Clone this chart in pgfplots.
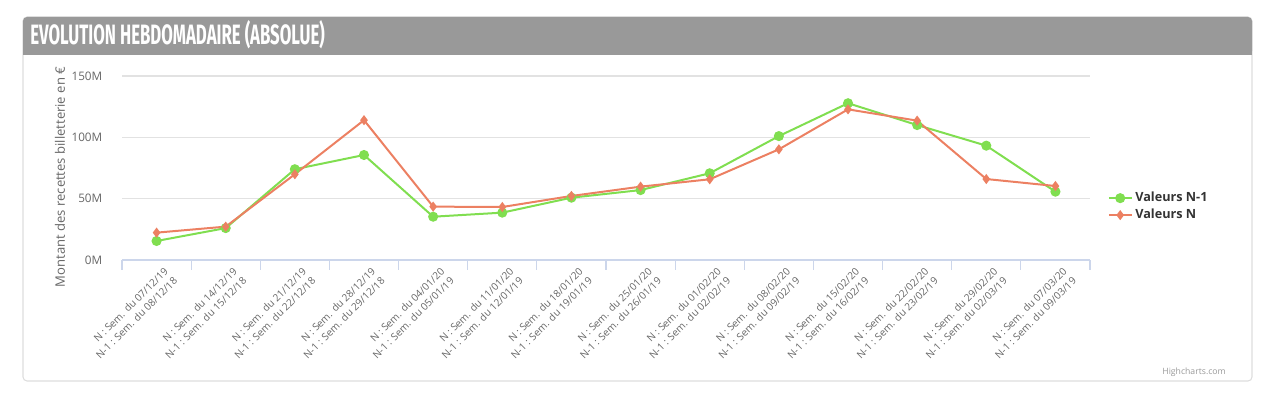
\documentclass[border=0pt]{standalone}
\usepackage{pgfplots}
\pgfplotsset{compat=1.18}
\usepackage{fontspec}
\usepackage{graphicx}
\setmainfont{Open Sans}
\newfontfamily\titlefont{Fira Sans}
\definecolor{grn}{RGB}{128,222,80}
\definecolor{sal}{RGB}{236,128,98}
\definecolor{gridc}{RGB}{226,226,226}
\definecolor{axc}{RGB}{204,214,235}
\definecolor{tlc}{RGB}{102,102,102}
\definecolor{barc}{RGB}{153,153,153}
\definecolor{panc}{RGB}{221,221,221}
\begin{document}
\begin{tikzpicture}[x=0.75pt,y=0.75pt]
\useasboundingbox (0,0) rectangle (1280,399);
% panel
\draw[panc, rounded corners=3pt, line width=0.8pt] (23,18) rectangle (1252,382);
\fill[barc, rounded corners=3pt] (23,344) rectangle (1252,382);
\fill[barc] (23,344) rectangle (1252,360);
\node[anchor=base west, inner sep=0pt, text=white] at (30,354)
  {\scalebox{0.6}[1]{\titlefont\fontsize{21}{23}\selectfont\bfseries EVOLUTION HEBDOMADAIRE (ABSOLUE)}};
\node[anchor=base east, inner sep=0pt, text=barc, font=\fontsize{6.5}{8}\selectfont] at (1226,24) {Highcharts.com};
\node[rotate=90, inner sep=0pt, text=tlc, font=\fontsize{9.8}{11}\selectfont] at (60,222) {Montant des recettes billetterie en €};
\begin{axis}[
  at={(91.5pt,104.25pt)}, anchor=south west,
  scale only axis, width=726pt, height=138pt,
  xmin=-0.5, xmax=13.5, ymin=0, ymax=150,
  axis line style={draw=none},
  axis x line*=bottom,
  axis y line*=left,
  ytick={0,50,100,150},
  yticklabels={0M,50M,100M,150M},
  major y tick style={draw=none},
  ymajorgrids, grid style={gridc, line width=0.8pt},
  xtick={0,...,13},
  major x tick style={draw=none},
  minor xtick={-0.5,0.5,...,13.5},
  minor x tick style={axc, line width=0.8pt},
  minor tick length=7.5pt,
  tick align=outside,
  xticklabels={
   {N : Sem. du 07/12/19\\N-1 : Sem. du 08/12/18},
   {N : Sem. du 14/12/19\\N-1 : Sem. du 15/12/18},
   {N : Sem. du 21/12/19\\N-1 : Sem. du 22/12/18},
   {N : Sem. du 28/12/19\\N-1 : Sem. du 29/12/18},
   {N : Sem. du 04/01/20\\N-1 : Sem. du 05/01/19},
   {N : Sem. du 11/01/20\\N-1 : Sem. du 12/01/19},
   {N : Sem. du 18/01/20\\N-1 : Sem. du 19/01/19},
   {N : Sem. du 25/01/20\\N-1 : Sem. du 26/01/19},
   {N : Sem. du 01/02/20\\N-1 : Sem. du 02/02/19},
   {N : Sem. du 08/02/20\\N-1 : Sem. du 09/02/19},
   {N : Sem. du 15/02/20\\N-1 : Sem. du 16/02/19},
   {N : Sem. du 22/02/20\\N-1 : Sem. du 23/02/19},
   {N : Sem. du 29/02/20\\N-1 : Sem. du 02/03/19},
   {N : Sem. du 07/03/20\\N-1 : Sem. du 09/03/19}},
  x tick label style={rotate=45, anchor=north east, align=right, text=tlc,
     font=\fontsize{7.6}{10}\selectfont, inner sep=1pt, xshift=4pt, yshift=-3pt},
  y tick label style={text=tlc, font=\fontsize{8.8}{10}\selectfont, xshift=-7pt},
  yticklabel style={/pgf/number format/assume math mode=true},
  clip=false,
  legend style={at={(1.014,0.29)}, anchor=west, draw=none, fill=none,
     font=\fontsize{9.5}{11}\selectfont\bfseries, text=black!80, row sep=0pt},
  legend cell align=left,
]
\draw[axc, line width=1pt] (axis cs:-0.5,0) -- (axis cs:13.5,0);
\addplot[grn, line width=1.5pt, mark=*, mark size=3pt, mark options={grn}] coordinates {
(0,15.5) (1,26) (2,74) (3,85.6) (4,35.3) (5,38.6) (6,50.8) (7,57) (8,70.7) (9,101) (10,127.8) (11,110) (12,93.2) (13,55.7)};
\addlegendentry{Valeurs N-1}
\addplot[sal, line width=1.5pt, mark=diamond*, mark size=2.6pt, mark options={sal}] coordinates {
(0,22.3) (1,27.2) (2,69.9) (3,114) (4,43.5) (5,43.2) (6,52.2) (7,59.8) (8,65.8) (9,90.2) (10,122.8) (11,113.6) (12,66) (13,60.3)};
\addlegendentry{Valeurs N}
\end{axis}
\end{tikzpicture}
\end{document}
